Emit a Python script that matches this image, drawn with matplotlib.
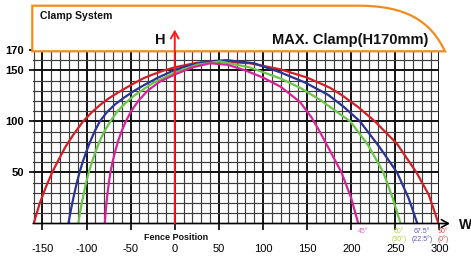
import matplotlib
matplotlib.use("Agg")
import matplotlib.pyplot as plt
from matplotlib.path import Path
from matplotlib.patches import PathPatch

plt.rcParams['font.family'] = ['Liberation Sans', 'DejaVu Sans']

# ---------------- data ----------------
red_x = [-160, -153, -146, -139, -132, -124, -115, -104, -94, -85, -75, -65, -55, -45, -35, -25, -12, 0, 25, 48, 85, 120, 150, 176, 189, 208, 227, 252, 274, 288, 299]
red_y = [0, 20, 36, 50, 62, 75, 87, 100, 109, 116, 122.5, 128, 133, 138, 142.5, 146, 150, 153, 157.5, 159, 157, 151, 143, 133, 126, 114, 100, 78, 50, 28, 0]

blue_x = [-120.6, -118.5, -116.2, -113.7, -111, -108, -104.5, -100.5, -96, -91, -85, -77, -68, -58, -47, -35, -20, 0, 15, 30, 45, 59, 90, 120, 148, 174, 192, 210, 232, 252, 265, 275]
blue_y = [0, 10, 20, 30, 40, 50, 60, 70, 80, 90, 100, 109, 116.5, 123, 129.5, 135.5, 142.5, 150.5, 154.5, 157.5, 159.3, 160, 157, 148, 138, 126, 114, 100, 75, 50, 25, 0]

green_x = [-109.3, -107.5, -105.5, -103, -100.5, -97.5, -94, -90, -85.5, -80, -73, -65, -56, -45, -25, 0, 25, 51, 85, 120, 142, 165, 199, 219, 236.5, 247, 256]
green_y = [0, 10, 20, 30, 40, 50, 60, 70, 80, 90, 100, 110, 118, 126, 137.5, 148, 155.5, 158.8, 153, 142, 133, 121, 100, 77, 50, 25, 0]

magenta_x = [-79.3, -78.5, -77.5, -76.2, -74.7, -73, -70.6, -67.8, -64.5, -60.5, -55.5, -49.5, -41.5, -31, -17, 0, 20, 40, 60, 80, 100, 120, 142, 155, 165, 178, 189, 200, 208]
magenta_y = [0, 10, 20, 30, 40, 50, 60, 70, 80, 90, 100, 110, 120, 130, 139, 146, 153, 157, 155.5, 150, 143, 134, 119, 104, 89, 68, 50, 25, 0]

x_ticks = [-150, -100, -50, 0, 50, 100, 150, 200, 250, 300]
x_tick_labels = ['-150', '-100', '-50', '0', '50', '100', '150', '200', '250', '300']
y_ticks = [50, 100, 150, 170]
y_tick_labels = ['50', '100', '150', '170']

curve_colors = ['#d21f26', '#2b3393', '#6cc449', '#d8249a']
angle_labels = [('45°', None), ('60°', '(30°)'), ('67.5°', '(22.5°)'), ('90°', '(0°)')]
angle_colors = ['#e066c4', '#bccc46', '#5a5abc', '#e04a4a']

# ---------------- figure ----------------
W, H = 471, 258
fig = plt.figure(figsize=(W / 100, H / 100), dpi=100)
fig.patch.set_facecolor('white')

def fx(px):
    return px / W

def fy(py):
    return 1 - py / H

x0, x1 = -160.5, 300
ax_l, ax_r = 33.2, 439.4
ax_t, ax_b = 50, 223.5
ax = fig.add_axes([fx(ax_l), fy(ax_b), (ax_r - ax_l) / W, (ax_b - ax_t) / H])
ax.set_facecolor('white')

# grid
for gx in range(-160, 301, 10):
    major = gx % 50 == 0
    ax.axvline(gx, color='#111111' if major else '#3c3c3c', lw=1.4 if major else 0.85, zorder=1)
for gy in range(0, 171, 10):
    major = gy % 50 == 0
    ax.axhline(gy, color='#111111' if major else '#3c3c3c', lw=1.4 if major else 0.85, zorder=1)

# curves
for xs, ys, c in [(red_x, red_y, curve_colors[0]), (blue_x, blue_y, curve_colors[1]),
                  (green_x, green_y, curve_colors[2]), (magenta_x, magenta_y, curve_colors[3])]:
    ax.plot(xs, ys, color=c, lw=1.6, zorder=3, solid_capstyle='butt', solid_joinstyle='round')

ax.set_xlim(x0, x1)
ax.set_ylim(0, 170)
for s in ax.spines.values():
    s.set_visible(False)

ax.set_xticks(x_ticks)
ax.set_xticklabels(x_tick_labels, fontsize=8)
ax.set_yticks(y_ticks)
ax.set_yticklabels(y_tick_labels, fontsize=8, fontweight='bold')
ax.tick_params(axis='x', direction='out', length=4.3, width=1.2, pad=10.5, colors='black')
ax.tick_params(axis='y', direction='out', length=2.9, width=1.2, pad=4, colors='black')

# bottom axis arrow (W)
ax.annotate('', xy=(312, 0), xytext=(x0, 0), xycoords='data',
            arrowprops=dict(arrowstyle='->,head_length=0.5,head_width=0.28', color='black', lw=1.2,
                            shrinkA=0, shrinkB=0), annotation_clip=False, zorder=4)

# clamp box
P = [(32.3, 51.3), (32.3, 5.7), (358, 5.7), (405, 5.7), (430, 20), (445, 51.3), (32.3, 51.3)]
codes = [Path.MOVETO, Path.LINETO, Path.LINETO, Path.CURVE4, Path.CURVE4, Path.CURVE4, Path.CLOSEPOLY]
path = Path([(fx(a), fy(b)) for a, b in P], codes)
ax.add_patch(PathPatch(path, transform=fig.transFigure, facecolor='white', edgecolor='#f08c1e',
                       lw=1.6, clip_on=False, zorder=5))

# H arrow (fence position)
ax.annotate('', xy=(0, 190), xytext=(0, 0), xycoords='data',
            arrowprops=dict(arrowstyle='->,head_length=0.5,head_width=0.28', color='#ff1a1a', lw=1.4,
                            shrinkA=0, shrinkB=0), annotation_clip=False, zorder=6)

ax.set_xlim(x0, x1)
ax.set_ylim(0, 170)

# texts
fig.text(fx(39.5), fy(15.7), 'Clamp System', fontsize=7.6, fontweight='bold', ha='left', va='center', color='#111111', zorder=7)
fig.text(fx(271.7), fy(40), 'MAX. Clamp(H170mm)', fontsize=10.5, fontweight='bold', ha='left', va='center', color='#111111', zorder=7)
fig.text(fx(160), fy(39.7), 'H', fontsize=10.5, fontweight='bold', ha='center', va='center', color='#111111', zorder=7)
fig.text(fx(459), fy(225), 'W', fontsize=10, fontweight='bold', ha='left', va='center', color='#111111')
fig.text(fx(176), fy(237.5), 'Fence Position', fontsize=6.5, fontweight='bold', ha='center', va='center', color='#111111')

label_x_px = [363, 399.3, 422, 443]
for (l1, l2), c, px in zip(angle_labels, angle_colors, label_x_px):
    fig.text(fx(px), fy(231.7), l1, fontsize=5, ha='center', va='center', color=c)
    if l2:
        fig.text(fx(px), fy(239), l2, fontsize=5, ha='center', va='center', color=c)

fig.savefig('out.png', dpi=100, facecolor='white')
